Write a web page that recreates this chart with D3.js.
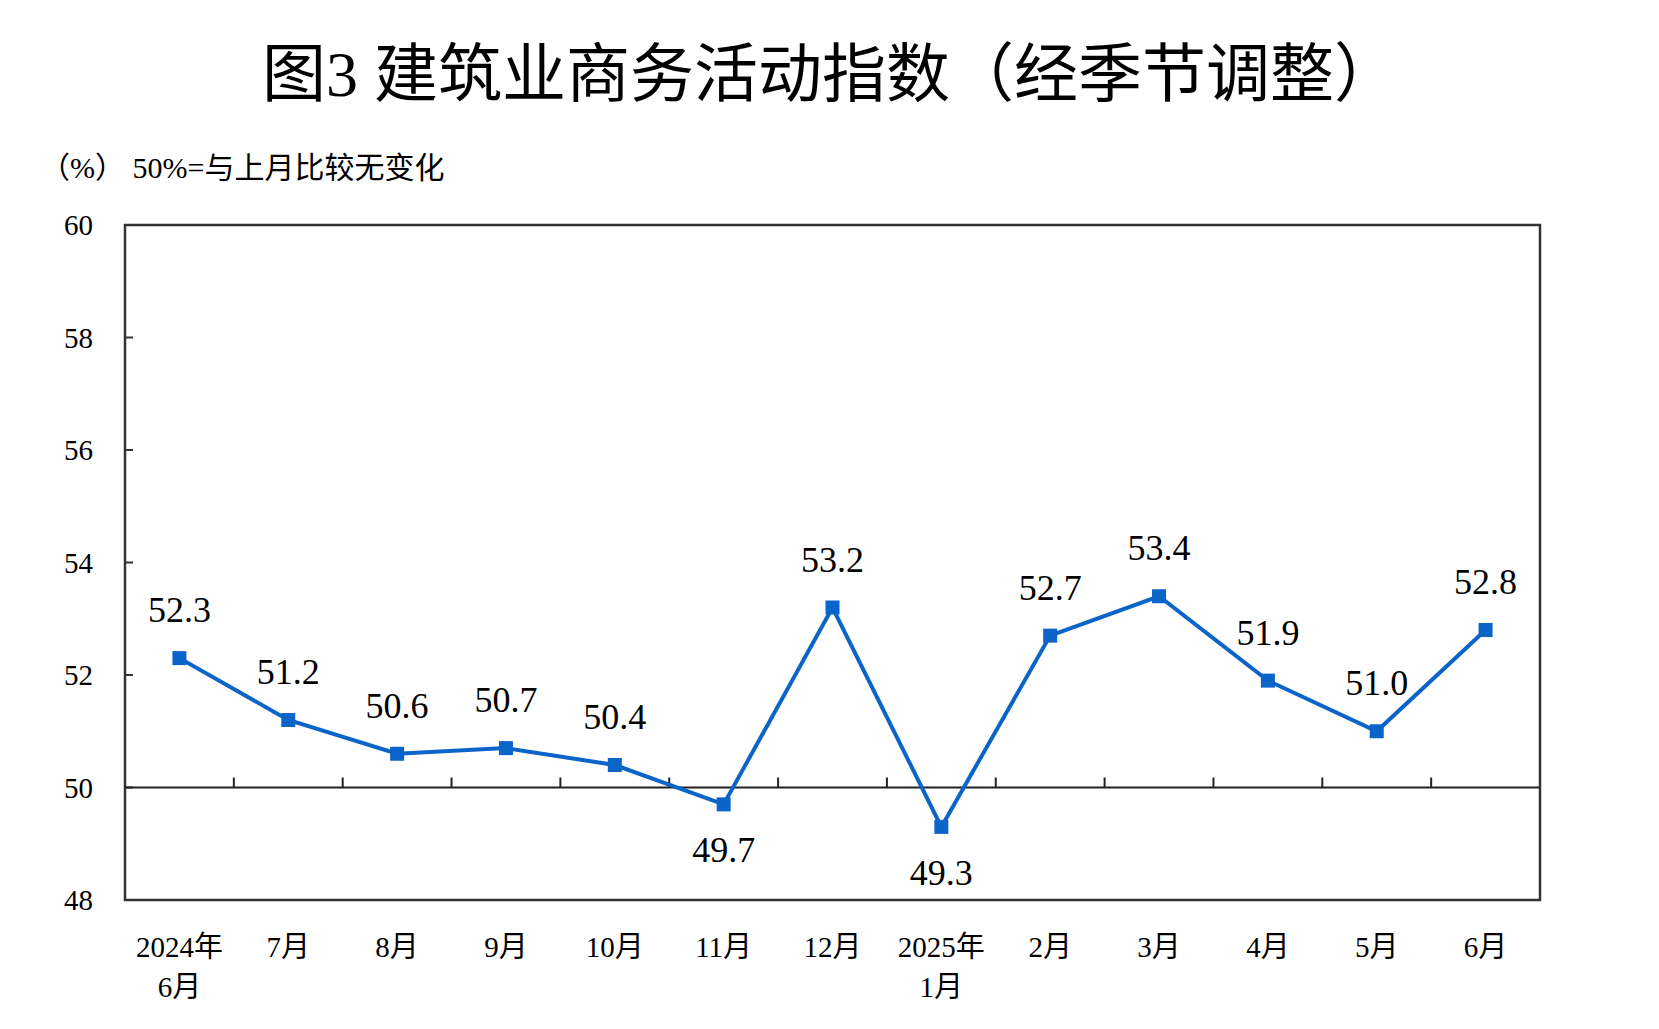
<!DOCTYPE html>
<html><head><meta charset="utf-8">
<script src="https://cdn.jsdelivr.net/npm/d3@7"></script>
<style>body{margin:0;background:#fff}text{font-family:"Liberation Serif","Noto Sans CJK SC",serif}</style>
</head><body><svg id="c" width="1659" height="1029"></svg>
<script>
var months = [["2024年","6月"],["7月"],["8月"],["9月"],["10月"],["11月"],["12月"],["2025年","1月"],["2月"],["3月"],["4月"],["5月"],["6月"]];
var values = [52.3, 51.2, 50.6, 50.7, 50.4, 49.7, 53.2, 49.3, 52.7, 53.4, 51.9, 51.0, 52.8];
var yTicks = [48, 50, 52, 54, 56, 58, 60];

var svg = d3.select("#c"),
    pLeft = 125, pRight = 1540, pTop = 225, pBottom = 900,
    blue = "#0b64c8";

var x = d3.scaleBand().domain(d3.range(values.length)).range([pLeft, pRight]);
var y = d3.scaleLinear().domain([48, 60]).range([pBottom, pTop]);

svg.append("text").attr("x", 830).attr("y", 96).attr("text-anchor", "middle")
   .style("font-size", "64px").text("图3  建筑业商务活动指数（经季节调整）");
svg.append("text").attr("x", 40).attr("y", 178).style("font-size", "30px").text("（%）  50%=与上月比较无变化");

svg.append("rect").attr("x", pLeft).attr("y", pTop).attr("width", pRight - pLeft).attr("height", pBottom - pTop)
   .attr("fill", "none").attr("stroke", "#333").attr("stroke-width", 2.5);

svg.selectAll(".yt").data(yTicks).join("text")
   .attr("x", pLeft - 32).attr("y", d => y(d) + 10).attr("text-anchor", "end")
   .style("font-size", "29px").text(d => d);
svg.selectAll(".ytk").data(yTicks).join("line")
   .attr("x1", pLeft).attr("x2", pLeft + 8).attr("y1", d => y(d)).attr("y2", d => y(d)).attr("stroke", "#333").attr("stroke-width", 2);

svg.append("line").attr("x1", pLeft).attr("x2", pRight).attr("y1", y(50)).attr("y2", y(50)).attr("stroke", "#222").attr("stroke-width", 2);
svg.selectAll(".xtk").data(d3.range(1, values.length)).join("line")
   .attr("x1", d => x(d)).attr("x2", d => x(d)).attr("y1", y(50)).attr("y2", y(50) - 10).attr("stroke", "#222").attr("stroke-width", 2);

var xl = svg.selectAll(".xl").data(months).join("text")
   .attr("text-anchor", "middle").style("font-size", "29px");
xl.each(function(d, i) {
  d3.select(this).selectAll("tspan").data(d).join("tspan")
    .attr("x", x(i) + x.bandwidth() / 2).attr("y", (t, j) => 957 + j * 40).text(t => t);
});

var cx = i => x(i) + x.bandwidth() / 2;
svg.append("path").datum(values)
   .attr("d", d3.line().x((d, i) => cx(i)).y(d => y(d)))
   .attr("fill", "none").attr("stroke", blue).attr("stroke-width", 4);
svg.selectAll(".pt").data(values).join("rect")
   .attr("x", (d, i) => cx(i) - 7).attr("y", d => y(d) - 7).attr("width", 14).attr("height", 14).attr("fill", blue);
svg.selectAll(".vl").data(values).join("text")
   .attr("x", (d, i) => cx(i)).attr("y", d => d < 50 ? y(d) + 58 : y(d) - 36)
   .attr("text-anchor", "middle").style("font-size", "36px").text(d => d.toFixed(1));
</script></body></html>
